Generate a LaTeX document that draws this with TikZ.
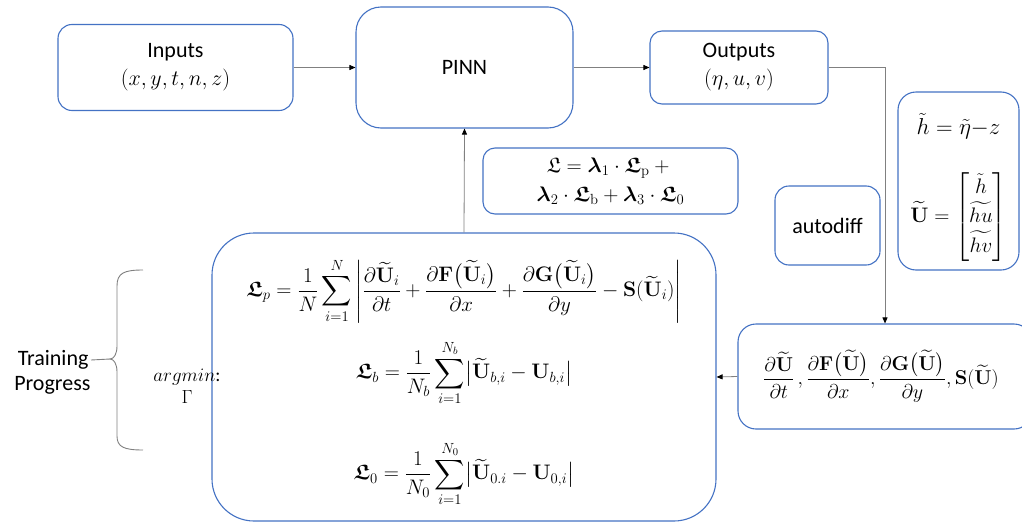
\RequirePackage{fix-cm}
\documentclass[tikz,border=0pt]{standalone}
\usepackage{amsmath,amssymb,bm}
\usepackage[no-math]{fontspec}
\setmainfont{Carlito}
\usetikzlibrary{arrows.meta,positioning}
\definecolor{ink}{HTML}{000000}
\definecolor{edge}{HTML}{4472C4}
\definecolor{wire}{HTML}{808080}
\tikzset{
  block/.style={rounded corners=14pt, draw=edge, line width=1.1pt, fill=white,
    align=center, inner sep=0pt, text=ink, font=\fontsize{22}{28}\selectfont},
  mathtext/.style={align=center, inner sep=0pt, text=ink, font=\fontsize{21}{27}\selectfont},
  bigmath/.style={mathtext, font=\fontsize{21}{26}\selectfont},
  arrow/.style={-{Triangle[length=6pt,width=5pt,color=ink]}, draw=wire, line width=0.8pt},
  bracket/.style={draw=wire, line width=0.9pt}
}
\newcommand{\Ut}{\widetilde{\mathbf{U}}}
\newcommand{\Lfr}{\bm{\mathfrak{L}}}

\begin{document}
\begin{tikzpicture}[x=1pt,y=-1pt]
  \fill[white] (0,0) rectangle (1022,522);
  \useasboundingbox (0,0) rectangle (1022,522);

  % Top row.
  \node[block, minimum width=235pt, minimum height=86pt] (inputs) at (175.5,67.5)
    {Inputs\\$(x, y, t, n, z)$};
  \node[block, rounded corners=25pt, minimum width=217pt, minimum height=121pt] (pinn) at (464.5,67.5)
    {PINN};
  \node[block, rounded corners=12pt, minimum width=178pt, minimum height=73pt] (outputs) at (739,67.5)
    {Outputs\\$(\eta, u, v)$};
  \draw[arrow] (inputs.east) -- (pinn.west);
  \draw[arrow] (pinn.east) -- (outputs.west);

  % Loss and helpers.
  \node[block, rounded corners=12pt, minimum width=255pt, minimum height=66pt,
    font=\fontsize{21}{29}\selectfont] (loss) at (610.5,181)
    {$\mathfrak{L} = \bm{\lambda}_1\cdot\Lfr_{\mathrm{p}} +{}$\\
     $\bm{\lambda}_2\cdot\Lfr_{\mathrm{b}} + \bm{\lambda}_3\cdot\Lfr_0$};
  \node[block, minimum width=105pt, minimum height=79pt] (autodiff) at (827.5,225.5) {autodiff};
  \node[block, rounded corners=18pt, minimum width=121pt, minimum height=178pt] (cons) at (958.5,181) {};
  \node[mathtext, font=\fontsize{23}{27}\selectfont] (hdef) at (958.5,126) {$\tilde{h} = \tilde{\eta}{-}z$};
  \node[mathtext] (udef) at (958.5,217)
    {$\Ut = \begin{bmatrix}\tilde{h}\\ \widetilde{hu}\\ \widetilde{hv}\end{bmatrix}$};

  % Residual box.
  \node[block, rounded corners=42pt, minimum width=504pt, minimum height=288pt] (residual) at (464,377) {};
  \node[bigmath] (eqp) at (464,291)
    {$\displaystyle \Lfr_p = \frac{1}{N}\sum_{i=1}^{N}\left|\frac{\partial\Ut_i}{\partial t}
      + \frac{\partial\mathbf{F}\bigl(\Ut_i\bigr)}{\partial x}
      + \frac{\partial\mathbf{G}\bigl(\Ut_i\bigr)}{\partial y} - \mathbf{S}(\Ut_i)\right|$};
  \node[bigmath] (eqb) at (464,373)
    {$\displaystyle \Lfr_b = \frac{1}{N_b}\sum_{i=1}^{N_b}\bigl|\Ut_{b,i} - \mathbf{U}_{b,i}\bigr|$};
  \node[bigmath] (eqo) at (464,474)
    {$\displaystyle \Lfr_0 = \frac{1}{N_0}\sum_{i=1}^{N_0}\bigl|\Ut_{0.i} - \mathbf{U}_{0,i}\bigr|$};

  \node[block, rounded corners=18pt, minimum width=294pt, minimum height=105pt,
    font=\fontsize{20}{26}\selectfont] (deriv) at (885,376.5)
    {$\displaystyle \frac{\partial\Ut}{\partial t}\,, \frac{\partial\mathbf{F}\bigl(\Ut\bigr)}{\partial x},
      \frac{\partial\mathbf{G}\bigl(\Ut\bigr)}{\partial y}, \mathbf{S}(\Ut)$\hspace*{8pt}};

  \draw[arrow] (outputs.east) -| (deriv.north);
  \draw[arrow] (deriv.west) -- (residual.east);
  \draw[arrow] (residual.north) -- (pinn.south);

  % Training bracket.
  \node[mathtext, font=\fontsize{19}{22}\selectfont] (argmin) at (187,386) {$argmin$:\\$\Gamma$};
  \node[block, draw=none, fill=none, anchor=east] (trainA) at (89,360) {Training};
  \node[block, draw=none, fill=none, anchor=east] (trainB) at (91,385) {Progress};
  \coordinate (tip) at (110,359);
  \draw[bracket] (143,270) .. controls (124,270) and (117,273) .. (117,286) -- (117,346)
    .. controls (117,354) and (114,359) .. (tip)
    .. controls (114,359) and (117,364) .. (117,372) -- (117,436)
    .. controls (117,447) and (124,450) .. (143,450);
  \draw[bracket] (trainA.east) ++(2pt,0) -- (tip);
\end{tikzpicture}
\end{document}
